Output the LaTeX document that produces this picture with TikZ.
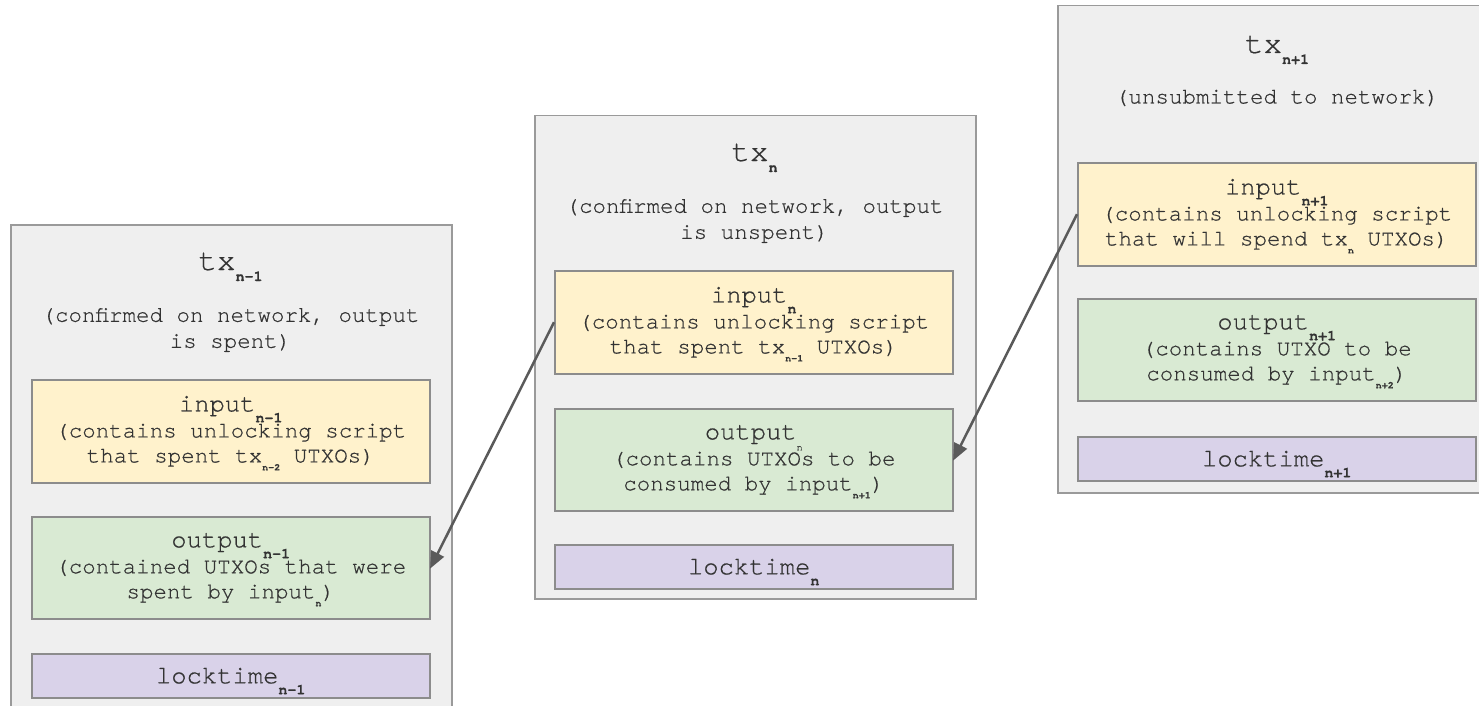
\documentclass[tikz,border=0pt]{standalone}
\usepackage{fontspec}
\setmainfont{TeX Gyre Cursor}[FakeBold=0.5]
\usetikzlibrary{arrows.meta}
\definecolor{txfill}{HTML}{EFEFEF}
\definecolor{txline}{HTML}{9A9A9A}
\definecolor{inline}{HTML}{8C8C8C}
\definecolor{infill}{HTML}{FFF2CC}
\definecolor{outfill}{HTML}{D9EAD3}
\definecolor{lockfill}{HTML}{D9D2E9}
\definecolor{txtcol}{HTML}{333333}
\definecolor{arrcol}{HTML}{5A5A5A}
\newcommand\bigsub[1]{\raisebox{-11pt}[0pt][0pt]{\fontsize{15}{15}\selectfont\bfseries #1}}
\newcommand\tinysub[1]{\raisebox{-8pt}[0pt][0pt]{\fontsize{10}{10}\selectfont\bfseries #1}}
\newcommand\hdr[1]{{\fontsize{25.5}{26}\selectfont #1}}
\tikzset{
  txbox/.style={draw=txline, fill=txfill, line width=1.5pt, rectangle, anchor=north west, inner sep=0pt},
  part/.style={draw=inline, line width=1.5pt, rectangle, anchor=north west, inner sep=0pt,
    minimum width=398pt, text=txtcol, align=center, font=\fontsize{22.5}{25}\selectfont},
  inbox/.style={part, fill=infill, minimum height=103pt},
  outbox/.style={part, fill=outfill, minimum height=102pt},
  lockbox/.style={part, fill=lockfill, minimum height=44pt},
  title/.style={anchor=base, text=txtcol, font=\fontsize{31}{31}\selectfont, inner sep=0pt},
  subtitle/.style={anchor=center, text=txtcol, align=center, font=\fontsize{22.5}{26}\selectfont, inner sep=0pt},
  link/.style={draw=arrcol, line width=2.5pt, -{Triangle[length=17pt,width=14pt]}, shorten >=-1pt}
}
\begin{document}
\begin{tikzpicture}[x=1pt,y=-1pt]
\useasboundingbox (0,0) rectangle (1479,706);
\clip (0,0) rectangle (1479,706);
% transaction boxes
\node[txbox, minimum width=441pt, minimum height=500pt] (tx1) at (10,224) {};
\node[txbox, minimum width=441pt, minimum height=483pt] (tx2) at (534,115) {};
\node[txbox, minimum width=441pt, minimum height=487pt] (tx3) at (1057,5) {};
% titles
\node[title] (t1) at (230.5,270) {tx\bigsub{n-1}};
\node[title] (t2) at (754.5,161) {tx\bigsub{n}};
\node[title] (t3) at (1277,53) {tx\bigsub{n+1}};
\node[subtitle] (s1) at (230.5,330) {(confirmed on network, output\\is spent)};
\node[subtitle] (s2) at (754.5,221) {(confirmed on network, output\\is unspent)};
\node[subtitle] (s3) at (1277,98) {(unsubmitted to network)};
% tx n-1
\node[inbox] (in1) at (31,379) {\hdr{input}\bigsub{n-1}\\[1pt](contains unlocking script\\that spent tx\tinysub{n-2} UTXOs)};
\node[outbox] (out1) at (31,516) {\hdr{output}\bigsub{n-1}\\[1pt](contained UTXOs that were\\spent by input\tinysub{n})};
\node[lockbox] (lk1) at (31,653) {\hdr{locktime}\bigsub{n-1}};
% tx n
\node[inbox] (in2) at (554,270) {\hdr{input}\bigsub{n}\\[1pt](contains unlocking script\\that spent tx\tinysub{n-1} UTXOs)};
\node[outbox] (out2) at (554,408) {\hdr{output}\bigsub{\mdseries\fontsize{10}{10}\selectfont n}\\[1pt](contains UTXOs to be\\consumed by input\tinysub{n+1})};
\node[lockbox] (lk2) at (554,544) {\hdr{locktime}\bigsub{n}};
% tx n+1
\node[inbox] (in3) at (1077,162) {\hdr{input}\bigsub{n+1}\\[1pt](contains unlocking script\\that will spend tx\tinysub{n} UTXOs)};
\node[outbox] (out3) at (1077,298) {\hdr{output}\bigsub{n+1}\\[1pt](contains UTXO to be\\consumed by input\tinysub{n+2})};
\node[lockbox] (lk3) at (1077,436) {\hdr{locktime}\bigsub{n+1}};
% links
\draw[link] (in2.west) -- (out1.east);
\draw[link] (in3.west) -- (out2.east);
\end{tikzpicture}
\end{document}
